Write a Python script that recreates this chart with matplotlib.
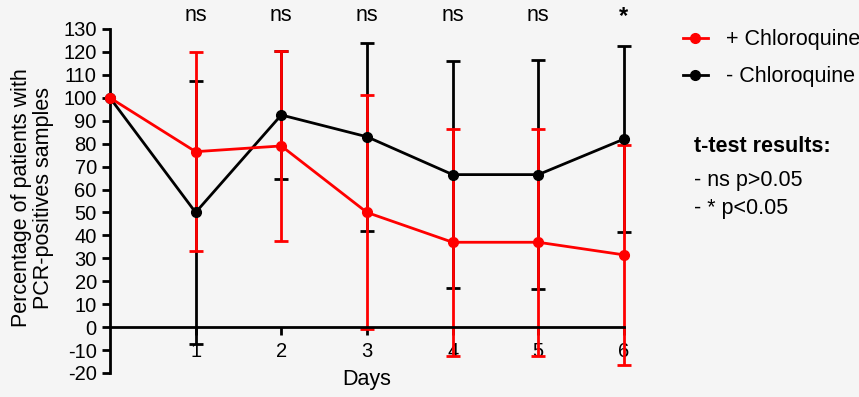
import matplotlib
matplotlib.use("Agg")
import matplotlib.pyplot as plt
import matplotlib.transforms as mtransforms

plt.rcParams['font.family'] = ['Liberation Sans', 'DejaVu Sans']
plt.rcParams['axes.unicode_minus'] = False

days = [0, 1, 2, 3, 4, 5, 6]
with_cq = [100, 76.5, 79, 50, 37, 37, 31.5]
with_cq_err = [0, 43.5, 41.5, 51, 49.5, 49.5, 48]
without_cq = [100, 50, 92.5, 83, 66.5, 66.5, 82]
without_cq_err = [0, 57.5, 28, 41, 49.5, 50, 40.5]
signif = ['ns', 'ns', 'ns', 'ns', 'ns', '*']

bg = '#f5f5f5'
red = '#ff0000'
fs = 15.5

fig = plt.figure(figsize=(8.59, 3.97), dpi=100, facecolor=bg)
ax = fig.add_axes([0.128, 0.0605, 0.5984, 0.8665], facecolor=bg)

def draw(vals, errs, color, label):
    # error bars only where an sd exists (day 0 is the 100% baseline)
    eb = ax.errorbar(days[1:], vals[1:], yerr=errs[1:], fmt='none', ecolor=color,
                     elinewidth=2, capsize=5, capthick=2, zorder=2)
    for art in eb.lines[1]:
        art.set_clip_on(False)
    for art in eb.lines[2]:
        art.set_clip_on(False)
    ax.plot(days, vals, color=color, lw=2, marker='o', ms=7, label=label,
            zorder=3, clip_on=False)

draw(without_cq, without_cq_err, 'black', '- Chloroquine')
draw(with_cq, with_cq_err, red, '+ Chloroquine')

ax.set_xlim(0, 6)
ax.set_ylim(-20, 130)
ax.set_yticks(range(-20, 131, 10))
ax.set_xticks(days[1:])
ax.spines['top'].set_visible(False)
ax.spines['right'].set_visible(False)
ax.spines['bottom'].set_position(('data', 0))
ax.spines['left'].set_linewidth(2)
ax.spines['bottom'].set_linewidth(2)
ax.tick_params(axis='both', width=2, length=6, labelsize=14.5, colors='black')
ax.tick_params(axis='x', pad=5)

fig.text(0.427, 0.043, 'Days', ha='center', va='center', fontsize=fs)
fig.text(0.038, 0.5025, 'Percentage of patients with\nPCR-positives samples',
         rotation=90, ha='center', va='center', fontsize=fs, linespacing=1.1)

trans = mtransforms.blended_transform_factory(ax.transData, ax.transAxes)
for d, s in zip(days[1:], signif):
    ax.text(d, 1.04 if s == 'ns' else 1.035, s, transform=trans, ha='center',
            va='center', fontsize=fs if s == 'ns' else 17,
            fontweight='bold' if s == '*' else 'normal')

handles, labels = ax.get_legend_handles_labels()
fig.legend(handles[::-1], labels[::-1], loc='upper left',
           bbox_to_anchor=(0.772, 0.975), frameon=False, fontsize=fs,
           handlelength=1.2, handletextpad=0.8, labelspacing=0.75)

fig.text(0.808, 0.63, 't-test results:', fontsize=fs, fontweight='bold',
         ha='left', va='center')
fig.text(0.808, 0.545, '- ns p>0.05', fontsize=fs, ha='left', va='center')
fig.text(0.808, 0.475, '- * p<0.05', fontsize=fs, ha='left', va='center')

fig.savefig('out.png', dpi=100, facecolor=bg)
